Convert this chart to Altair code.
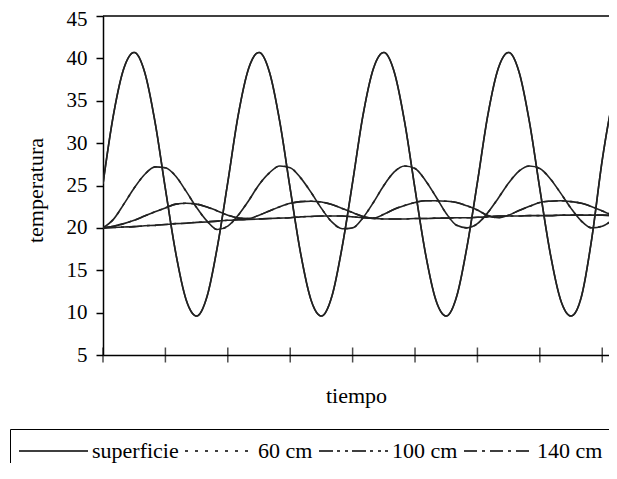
import altair as alt
import pandas as pd

FONT = "Liberation Serif"

hours = list(range(0, 101, 2))

superficie = [25.2, 33.3, 38.8, 40.7, 38.4, 32.5, 24.6, 17.0, 11.5, 9.6, 11.9, 17.8,
              25.4, 33.3, 38.8, 40.7, 38.4, 32.5, 24.6, 17.0, 11.5, 9.6, 11.9, 17.8,
              25.4, 33.3, 38.8, 40.7, 38.4, 32.5, 24.6, 17.0, 11.5, 9.6, 11.9, 17.8,
              25.4, 33.3, 38.8, 40.7, 38.4, 32.5, 24.6, 17.0, 11.5, 9.6, 11.9, 18.8,
              28.0, 35.0, 39.5]

cm60 = [20.0, 21.0, 22.8, 24.7, 26.3, 27.2, 27.1, 26.1, 24.3, 22.4, 20.8, 19.8,
        20.2, 21.5, 23.2, 25.1, 26.5, 27.3, 27.1, 25.9, 24.2, 22.3, 20.7, 19.9,
        20.0, 21.2, 23.0, 25.0, 26.6, 27.3, 27.0, 25.6, 23.7, 21.7, 20.3, 20.0,
        20.5, 21.8, 23.5, 25.3, 26.7, 27.3, 27.0, 25.8, 24.1, 22.3, 20.8, 20.0,
        20.2, 21.0, 22.6]

cm100 = [20.0, 20.2, 20.5, 20.9, 21.4, 21.9, 22.35, 22.8, 22.9, 22.8, 22.45, 22.0,
         21.5, 21.15, 21.1, 21.5, 22.0, 22.5, 22.9, 23.1, 23.15, 23.05, 22.75, 22.3,
         21.8, 21.35, 21.15, 21.6, 22.2, 22.65, 23.0, 23.2, 23.2, 23.15, 23.0, 22.6,
         22.1, 21.45, 21.2, 21.5, 22.05, 22.55, 23.0, 23.15, 23.2, 23.1, 22.9, 22.5,
         22.0, 21.5, 21.2]

cm140 = [20.0, 20.05, 20.1, 20.15, 20.25, 20.3, 20.4, 20.5, 20.55, 20.65, 20.7, 20.8,
         20.9, 20.95, 21.0, 21.05, 21.1, 21.15, 21.2, 21.3, 21.35, 21.4, 21.4, 21.4,
         21.3, 21.2, 21.1, 21.05, 21.05, 21.05, 21.1, 21.1, 21.15, 21.15, 21.2, 21.2,
         21.25, 21.3, 21.4, 21.4, 21.4, 21.45, 21.45, 21.45, 21.5, 21.5, 21.5, 21.5,
         21.5, 21.45, 21.4]

series = ["superficie", "60 cm", "100 cm", "140 cm"]
dashes = [[1, 0], [3, 7], [14, 4, 3, 5, 3, 4], [13, 5, 3, 5]]
tick_hours = [0, 12, 24, 36, 48, 60, 72, 84, 96]
y_ticks = [5, 10, 15, 20, 25, 30, 35, 40, 45]

rows = []
for name, vals in zip(series, [superficie, cm60, cm100, cm140]):
    for h, v in zip(hours, vals):
        rows.append({"tiempo": h, "temperatura": v, "serie": name})
df = pd.DataFrame(rows)
ticks_df = pd.DataFrame({"tiempo": tick_hours})

x_scale = alt.Scale(domain=[0, 97.3], nice=False, zero=False)
y_scale = alt.Scale(domain=[5, 45], nice=False, zero=False)

x_enc = alt.X("tiempo:Q", scale=x_scale,
              axis=alt.Axis(title="tiempo", labels=False, ticks=False, grid=False,
                            domainColor="black", domainWidth=1.5,
                            titleFont=FONT, titleFontSize=22, titleFontWeight="normal",
                            titleColor="black", titlePadding=30))
y_enc = alt.Y("temperatura:Q", scale=y_scale,
              axis=alt.Axis(title="temperatura", values=y_ticks, grid=False,
                            tickSize=7, tickColor="black", tickWidth=1.5,
                            domainColor="black", domainWidth=1.5,
                            labelFont=FONT, labelFontSize=21, labelColor="black",
                            labelPadding=9,
                            labelOffset={"condition": {"test": "datum.value == 45", "value": 3},
                                         "value": 0},
                            titleFont=FONT, titleFontSize=22, titleFontWeight="normal",
                            titleColor="black", titlePadding=19, titleY=174))

legend = alt.Legend(title=None, orient="none", legendX=-93, legendY=413,
                    direction="horizontal", strokeColor="black", padding=8,
                    symbolType="stroke", symbolSize=4761, symbolStrokeWidth=1.5,
                    symbolStrokeColor="black", clipHeight=28,
                    labelFont=FONT, labelFontSize=22, labelColor="black",
                    labelOffset=3, columnPadding=5, labelLimit=0)

dashed = alt.Chart(df).mark_line(clip=True, color="#222", strokeWidth=1.6,
                                 interpolate="monotone").encode(
    x=x_enc, y=y_enc,
    strokeDash=alt.StrokeDash("serie:N", scale=alt.Scale(domain=series, range=dashes),
                              legend=legend))

solid = alt.Chart(df).mark_line(clip=True, color="#222", strokeWidth=1.6,
                                interpolate="monotone").encode(
    x=x_enc, y=y_enc, detail="serie:N")

xticks = alt.Chart(ticks_df).mark_tick(orient="vertical", size=15, thickness=1.5,
                                       color="black").encode(x=x_enc, y=alt.datum(5))

top_rule = alt.Chart(pd.DataFrame({"a": [0]})).mark_rule(color="black", strokeWidth=1.5).encode(
    y=alt.datum(45))

chart = alt.layer(dashed, solid, xticks, top_rule).properties(
    width=506, height=339,
    autosize=alt.AutoSizeParams(type="none"),
    padding={"left": 95, "top": 8, "right": 0, "bottom": 108},
    background="white",
).configure_view(stroke="transparent", strokeWidth=0)

chart.save("out.html", embed_options={"renderer": "svg", "actions": False})
